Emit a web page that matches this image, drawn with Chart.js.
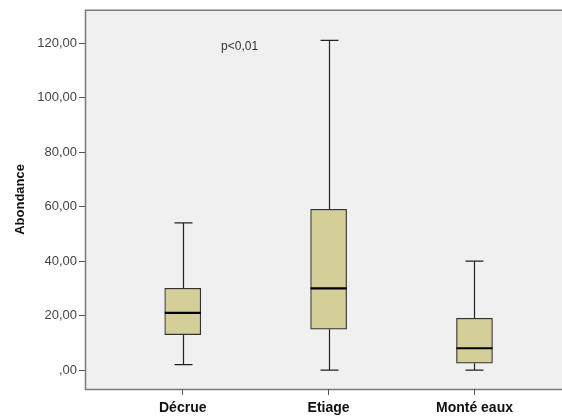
<!DOCTYPE html>
<html>
<head>
<meta charset="utf-8">
<script src="https://cdn.jsdelivr.net/npm/chart.js@4/dist/chart.umd.min.js"></script>
<style>
html,body{margin:0;padding:0;background:#fff;}
#wrap{width:562px;height:416px;position:relative;}
</style>
</head>
<body>
<div id="wrap"><canvas id="c" width="562" height="416"></canvas></div>
<script>
const categories = ["Décrue", "Etiage", "Monté eaux"];
const whiskerLow = [2, 0, 0];
const q1 = [13, 15, 2.5];
const median = [21, 30, 8];
const q3 = [30, 59, 19];
const whiskerHigh = [54, 121, 40];
const yTicks = [0, 20, 40, 60, 80, 100, 120];
const annotationText = "p<0,01";

const boxData = categories.map((c, i) => ({x: i, y: [q1[i], q3[i]]}));

const boxPlugin = {
  id: 'boxExtras',
  beforeDraw(chart) {
    const {ctx, chartArea: a} = chart;
    ctx.save();
    ctx.fillStyle = '#F0F0F0';
    ctx.fillRect(a.left, a.top, a.right - a.left, a.bottom - a.top);
    ctx.strokeStyle = '#7a7a7a';
    ctx.lineWidth = 1.5;
    ctx.beginPath();
    ctx.moveTo(a.right + 2, a.top + 0.5);
    ctx.lineTo(a.left + 0.5, a.top + 0.5);
    ctx.lineTo(a.left + 0.5, a.bottom + 0.5);
    ctx.lineTo(a.right + 2, a.bottom + 0.5);
    ctx.stroke();
    ctx.restore();
  },
  beforeDatasetsDraw(chart) {
    const {ctx} = chart;
    const xs = chart.scales.x, ys = chart.scales.y;
    ctx.save();
    ctx.strokeStyle = '#222';
    ctx.lineWidth = 1.2;
    const capHalf = 9;
    categories.forEach((c, i) => {
      const x = Math.round(xs.getPixelForValue(i)) + 0.5;
      const yl = ys.getPixelForValue(whiskerLow[i]);
      const yh = ys.getPixelForValue(whiskerHigh[i]);
      const y1 = ys.getPixelForValue(q1[i]);
      const y3 = ys.getPixelForValue(q3[i]);
      ctx.beginPath();
      ctx.moveTo(x, yh); ctx.lineTo(x, y3);
      ctx.moveTo(x, y1); ctx.lineTo(x, yl);
      ctx.moveTo(x - capHalf, yh); ctx.lineTo(x + capHalf, yh);
      ctx.moveTo(x - capHalf, yl); ctx.lineTo(x + capHalf, yl);
      ctx.stroke();
    });
    ctx.restore();
  },
  afterDatasetsDraw(chart) {
    const {ctx} = chart;
    const xs = chart.scales.x, ys = chart.scales.y;
    ctx.save();
    ctx.strokeStyle = '#000';
    ctx.lineWidth = 2.2;
    categories.forEach((c, i) => {
      const x = xs.getPixelForValue(i);
      const hw = 18;
      const ym = ys.getPixelForValue(median[i]);
      ctx.beginPath();
      ctx.moveTo(x - hw, ym); ctx.lineTo(x + hw, ym);
      ctx.stroke();
    });
    ctx.fillStyle = '#333';
    ctx.font = '12px "Liberation Sans", Arial, sans-serif';
    ctx.textAlign = 'center';
    ctx.textBaseline = 'middle';
    ctx.fillText(annotationText, xs.getPixelForValue(0.39), ys.getPixelForValue(118.7));
    ctx.restore();
  }
};

new Chart(document.getElementById('c'), {
  type: 'bar',
  data: {
    datasets: [{
      data: boxData,
      backgroundColor: '#D4CF99',
      borderColor: '#333',
      borderWidth: 1.2,
      borderSkipped: false,
      barThickness: 36,
      grouped: false
    }]
  },
  options: {
    responsive: false,
    animation: false,
    layout: {padding: {left: 0, right: 0, top: 9, bottom: 0}},
    plugins: {legend: {display: false}, tooltip: {enabled: false}},
    scales: {
      x: {
        type: 'linear',
        offset: false,
        min: -0.67,
        max: 2.6,
        afterBuildTicks(s) { s.ticks = categories.map((c, i) => ({value: i})); },
        afterFit(s) { s.height = 27; },
        grid: {display: true, offset: false, drawTicks: true, tickLength: 6, tickColor: '#555', drawOnChartArea: false},
        border: {display: false},
        ticks: {
          callback: (v) => categories[v] ?? '',
          color: '#111',
          font: {family: '"Liberation Sans", Arial, sans-serif', size: 14, weight: 'bold'},
          padding: 5,
          maxRotation: 0,
          autoSkip: false
        }
      },
      y: {
        min: -6.96,
        max: 132.2,
        afterBuildTicks(s) { s.ticks = yTicks.map(v => ({value: v})); },
        afterFit(s) { s.width = 85; },
        grid: {display: true, drawOnChartArea: false, drawTicks: true, tickLength: 6, tickColor: '#555'},
        border: {display: false},
        ticks: {
          callback: (v) => v === 0 ? ',00' : v.toFixed(2).replace('.', ','),
          color: '#444',
          font: {family: '"Liberation Sans", Arial, sans-serif', size: 13},
          padding: 2
        },
        title: {
          display: true,
          text: 'Abondance',
          color: '#111',
          font: {family: '"Liberation Sans", Arial, sans-serif', size: 13, weight: 'bold'},
          padding: {top: 13, bottom: 0}
        }
      }
    }
  },
  plugins: [boxPlugin]
});
</script>
</body>
</html>
